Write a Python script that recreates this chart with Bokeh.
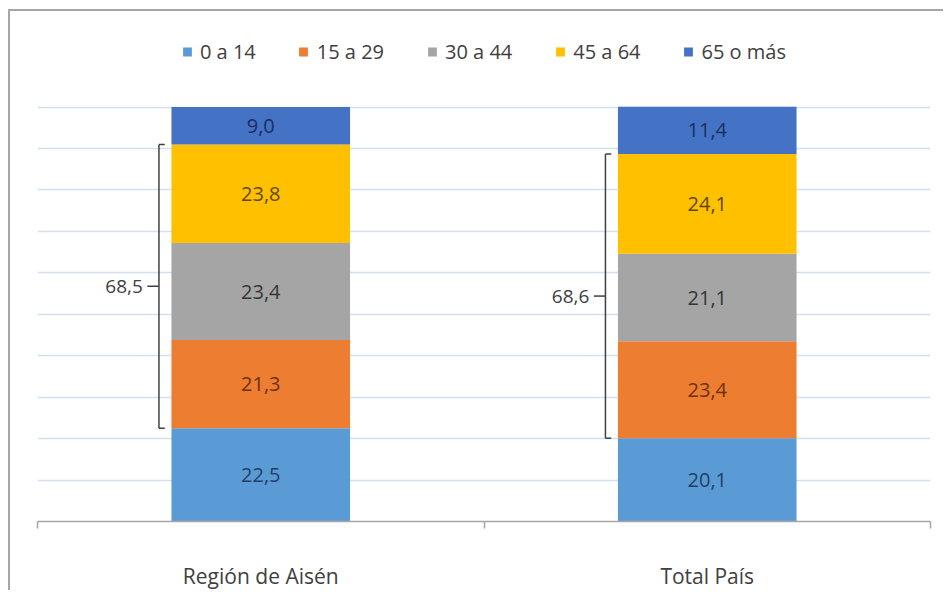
from bokeh.plotting import figure
from bokeh.models import (ColumnDataSource, Range1d, LinearAxis,
                          FixedTicker, Grid)
from bokeh.core.properties import value
from bokeh.embed import file_html
from bokeh.resources import INLINE

# ---- data ----
categories = ["Región de Aisén", "Total País"]
groups = ["0 a 14", "15 a 29", "30 a 44", "45 a 64", "65 o más"]
g0_14 = [22.5, 20.1]
g15_29 = [21.3, 23.4]
g30_44 = [23.4, 21.1]
g45_64 = [23.8, 24.1]
g65 = [9.0, 11.4]
bracket_labels = ["68,5", "68,6"]

# ---- styles ----
colors = ["#5B9BD5", "#ED7D31", "#A5A5A5", "#FFC000", "#4472C4"]
label_colors = ["#1F3F66", "#6E300C", "#353535", "#5F4700", "#1C2E5C"]
FONT = "Open Sans"

series = [g0_14, g15_29, g30_44, g45_64, g65]
keys = ["k0", "k1", "k2", "k3", "k4"]
xpos = [i + 0.5 for i in range(len(categories))]   # category slot centres
data = {"x": xpos}
for k, s in zip(keys, series):
    data[k] = s
src = ColumnDataSource(data)

p = figure(x_range=Range1d(0, len(categories)), y_range=Range1d(0, 120.9),
           width=935, height=581, output_backend="svg", toolbar_location=None,
           x_axis_location=None, y_axis_location=None,
           min_border_left=27, min_border_right=15, min_border_top=9,
           min_border_bottom=69)
for g in list(p.grid):
    g.visible = False
p.outline_line_color = None
p.background_fill_color = "white"
p.border_fill_color = "white"
p.styles = {"margin-left": "8px", "margin-top": "9px",
            "border-left": "2px solid #A6A6A6", "border-top": "2px solid #A6A6A6"}

# gridlines
grid = Grid(dimension=1, ticker=FixedTicker(ticks=list(range(0, 101, 10))),
            grid_line_color="#D3E0F0", grid_line_width=1.5)
p.add_layout(grid)

# bars
rs = p.vbar_stack(keys, x="x", width=0.4, color=colors, line_color=None,
                  source=src, legend_label=groups)

# data labels
lx, ly, lt, lc = [], [], [], []
for i, c in enumerate(categories):
    base = 0.0
    for j, s in enumerate(series):
        v = s[i]
        lx.append(xpos[i])
        ly.append(base + v / 2)
        lt.append(f"{v:.1f}".replace(".", ","))
        lc.append(label_colors[j])
        base += v
lsrc = ColumnDataSource(dict(x=lx, y=ly, t=lt, c=lc))
p.text(x="x", y="y", text="t", text_color="c", source=lsrc,
       text_align="center", text_baseline="middle",
       text_font=value(FONT), text_font_size="20px")

# brackets (15 to 64)
BX = -0.228
ybot = [a for a in g0_14]
ytop = [a + b + c + d for a, b, c, d in zip(g0_14, g15_29, g30_44, g45_64)]
ymid = [(a + b) / 2 for a, b in zip(ybot, ytop)]
bx = [x + BX for x in xpos]
bsrc = ColumnDataSource(dict(bx=bx, bx_r=[x + 0.013 for x in bx],
                             bx_l=[x - 0.026 for x in bx],
                             tx=[x - 0.036 for x in bx],
                             ybot=ybot, ytop=ytop, ymid=ymid, lab=bracket_labels))
bc = "#404040"
p.segment(x0="bx", y0="ybot", x1="bx", y1="ytop",
          line_color=bc, line_width=1.5, source=bsrc)
p.segment(x0="bx", y0="ytop", x1="bx_r", y1="ytop",
          line_color=bc, line_width=1.5, source=bsrc)
p.segment(x0="bx", y0="ybot", x1="bx_r", y1="ybot",
          line_color=bc, line_width=1.5, source=bsrc)
p.segment(x0="bx_l", y0="ymid", x1="bx", y1="ymid",
          line_color=bc, line_width=1.5, source=bsrc)
p.text(x="tx", y="ymid", text="lab",
       source=bsrc, text_align="right", text_baseline="middle",
       text_color="#404040", text_font=value(FONT), text_font_size="19px")

# category axis: labels at slot centres, boundary ticks as minor ticks
cat_axis = LinearAxis(
    ticker=FixedTicker(ticks=xpos,
                       minor_ticks=list(range(len(categories) + 1))),
    major_label_overrides={x: c for x, c in zip(xpos, categories)},
    axis_line_color="#A6A6A6", axis_line_width=1.5,
    major_tick_line_color=None,
    minor_tick_line_color="#A6A6A6", minor_tick_line_width=1.5,
    minor_tick_in=0, minor_tick_out=7,
    major_tick_in=0, major_tick_out=7,
    major_label_text_font=FONT,
    major_label_text_font_size="21px",
    major_label_text_color="#404040",
    major_label_standoff=33)
p.add_layout(cat_axis, "below")

# legend
lg = p.legend[0]
lg.location = "top_center"
lg.orientation = "horizontal"
lg.border_line_color = None
lg.background_fill_alpha = 0
lg.label_text_font = FONT
lg.label_text_font_size = "20px"
lg.label_text_color = "#404040"
lg.glyph_width = 11
lg.glyph_height = 11
lg.label_standoff = 8
lg.spacing = 42
lg.padding = 0
lg.margin = 18

open("out.html", "w").write(file_html(p, INLINE))
